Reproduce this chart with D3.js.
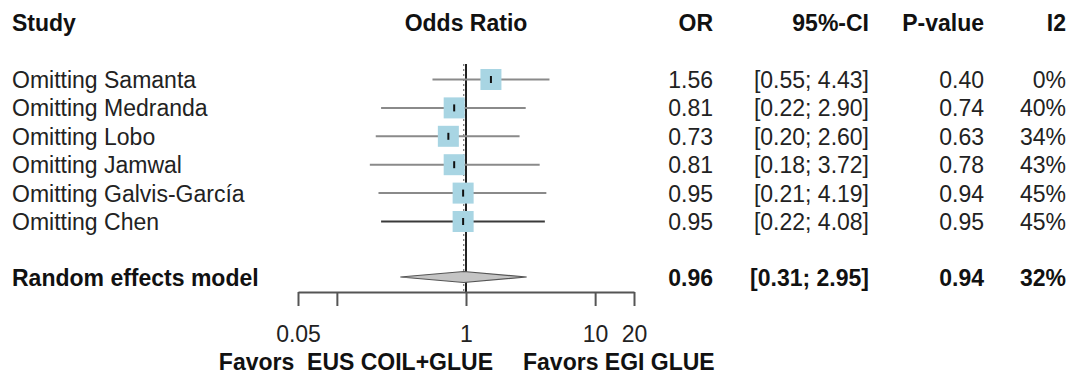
<!DOCTYPE html>
<html>
<head>
<meta charset="utf-8">
<script src="https://cdn.jsdelivr.net/npm/d3@7"></script>
<style>
	body { margin: 0; background: #fff; }
	svg text { font-family: "Liberation Sans", Arial, sans-serif; white-space: pre; }
</style>
</head>
<body>
<svg id="chart"></svg>
<script>
// leave-one-out results
const studies = [ 'Omitting Samanta', 'Omitting Medranda', 'Omitting Lobo', 'Omitting Jamwal', 'Omitting Galvis-García', 'Omitting Chen' ] ;
const orValues = [ 1.56, 0.81, 0.73, 0.81, 0.95, 0.95 ] ;
const ciLower = [ 0.55, 0.22, 0.20, 0.18, 0.21, 0.22 ] ;
const ciUpper = [ 4.43, 2.90, 2.60, 3.72, 4.19, 4.08 ] ;
const pValues = [ 0.40, 0.74, 0.63, 0.78, 0.94, 0.95 ] ;
const i2Values = [ 0, 40, 34, 43, 45, 45 ] ;

// pooled estimate
const pooledLabel = 'Random effects model' ;
const pooledOR = 0.96 ;
const pooledCI = [ 0.31, 2.95 ] ;
const pooledP = 0.94 ;
const pooledI2 = 32 ;

const headers = [ 'Study', 'Odds Ratio', 'OR', '95%-CI', 'P-value', 'I2' ] ;
const tickValues = [ 0.05, 0.1, 1, 10, 20 ] ;
const tickLabels = [ '0.05', '', '1', '10', '20' ] ;
const favorsLeft = 'Favors  EUS COIL+GLUE' ;
const favorsRight = 'Favors EGI GLUE' ;

const geom = { width: 1072, height: 377, fontSize: 23 } ;
const f2 = d3.format( '.2f' ) ;

const svg = d3.select( '#chart' )
	.attr( 'width', geom.width )
	.attr( 'height', geom.height ) ;

const x = d3.scaleLog()
	.domain( [ 0.05, 20 ] )
	.range( [ 298, 634 ] ) ;

const y = d3.scaleLinear()
	.domain( [ 0, studies.length - 1 ] )
	.range( [ 79.5, 221.5 ] ) ;
const yPooled = 277 ;
const yAxis = 292 ;

const cols = { study: 12, or: 713, ci: 869, p: 984, i2: 1066 } ;

const rows = studies.map( (s, i) => ({
	study: s,
	or: orValues[i],
	lo: ciLower[i],
	hi: ciUpper[i],
	p: pValues[i],
	i2: i2Values[i],
	idx: i
}) ) ;

// headers
const hy = 31 ;
const hdr = svg.append( 'g' )
	.attr( 'font-weight', 'bold' )
	.attr( 'font-size', geom.fontSize )
	.attr( 'fill', '#111' ) ;
hdr.append( 'text' ).attr( 'x', cols.study ).attr( 'y', hy ).text( headers[0] ) ;
hdr.append( 'text' ).attr( 'x', x(1) ).attr( 'y', hy ).attr( 'text-anchor', 'middle' ).text( headers[1] ) ;
hdr.append( 'text' ).attr( 'x', cols.or ).attr( 'y', hy ).attr( 'text-anchor', 'end' ).text( headers[2] ) ;
hdr.append( 'text' ).attr( 'x', cols.ci ).attr( 'y', hy ).attr( 'text-anchor', 'end' ).text( headers[3] ) ;
hdr.append( 'text' ).attr( 'x', cols.p ).attr( 'y', hy ).attr( 'text-anchor', 'end' ).text( headers[4] ) ;
hdr.append( 'text' ).attr( 'x', cols.i2 ).attr( 'y', hy ).attr( 'text-anchor', 'end' ).text( headers[5] ) ;

// reference lines
svg.append( 'line' )
	.attr( 'x1', x(1) ).attr( 'x2', x(1) )
	.attr( 'y1', 64 ).attr( 'y2', yAxis )
	.attr( 'stroke', '#222' )
	.attr( 'stroke-width', 2 ) ;
svg.append( 'line' )
	.attr( 'x1', x(pooledOR) ).attr( 'x2', x(pooledOR) )
	.attr( 'y1', 64 ).attr( 'y2', yAxis )
	.attr( 'stroke', '#777' )
	.attr( 'stroke-width', 1.2 )
	.attr( 'stroke-dasharray', '2 3' ) ;

// study rows
const g = svg.append( 'g' ) ;

g.selectAll( 'line.ci' )
	.data( rows )
	.enter()
	.append( 'line' )
	.attr( 'class', 'ci' )
	.attr( 'x1', d => x(d.lo) )
	.attr( 'x2', d => x(d.hi) )
	.attr( 'y1', d => y(d.idx) )
	.attr( 'y2', d => y(d.idx) )
	.attr( 'stroke', d => d.idx == rows.length - 1 ? '#3a3a3a' : '#8a8a8a' )
	.attr( 'stroke-width', 2 ) ;

const sq = 21 ;
g.selectAll( 'rect.box' )
	.data( rows )
	.enter()
	.append( 'rect' )
	.attr( 'class', 'box' )
	.attr( 'x', d => x(d.or) - sq / 2 )
	.attr( 'y', d => y(d.idx) - sq / 2 )
	.attr( 'width', sq )
	.attr( 'height', sq )
	.attr( 'fill', '#a8d5e3' ) ;

g.selectAll( 'line.pt' )
	.data( rows )
	.enter()
	.append( 'line' )
	.attr( 'class', 'pt' )
	.attr( 'x1', d => x(d.or) )
	.attr( 'x2', d => x(d.or) )
	.attr( 'y1', d => y(d.idx) - 3.5 )
	.attr( 'y2', d => y(d.idx) + 3.5 )
	.attr( 'stroke', '#111' )
	.attr( 'stroke-width', 2 ) ;

const txt = svg.append( 'g' )
	.attr( 'font-size', geom.fontSize )
	.attr( 'fill', '#222' ) ;

const cells = [
	{ col: cols.study, anchor: 'start', f: d => d.study },
	{ col: cols.or, anchor: 'end', f: d => f2(d.or) },
	{ col: cols.ci, anchor: 'end', f: d => '[' + f2(d.lo) + '; ' + f2(d.hi) + ']' },
	{ col: cols.p, anchor: 'end', f: d => f2(d.p) },
	{ col: cols.i2, anchor: 'end', f: d => d.i2 + '%' }
] ;
cells.forEach( c => {
	txt.selectAll( null )
		.data( rows )
		.enter()
		.append( 'text' )
		.attr( 'x', c.col )
		.attr( 'y', d => y(d.idx) + 8.5 )
		.attr( 'text-anchor', c.anchor )
		.text( c.f ) ;
} ) ;

// pooled diamond
svg.append( 'path' )
	.attr( 'd', 'M' + x(pooledCI[0]) + ',' + yPooled
		+ 'L' + x(pooledOR) + ',' + (yPooled - 5.5)
		+ 'L' + x(pooledCI[1]) + ',' + yPooled
		+ 'L' + x(pooledOR) + ',' + (yPooled + 5.5) + 'Z' )
	.attr( 'fill', '#c4c4c4' )
	.attr( 'stroke', '#555' )
	.attr( 'stroke-width', 1.2 ) ;

const pooledRow = [
	{ col: cols.study, anchor: 'start', t: pooledLabel },
	{ col: cols.or, anchor: 'end', t: f2(pooledOR) },
	{ col: cols.ci, anchor: 'end', t: '[' + f2(pooledCI[0]) + '; ' + f2(pooledCI[1]) + ']' },
	{ col: cols.p, anchor: 'end', t: f2(pooledP) },
	{ col: cols.i2, anchor: 'end', t: pooledI2 + '%' }
] ;
svg.append( 'g' )
	.attr( 'font-size', geom.fontSize )
	.attr( 'font-weight', 'bold' )
	.attr( 'fill', '#111' )
	.selectAll( 'text' )
	.data( pooledRow )
	.enter()
	.append( 'text' )
	.attr( 'x', d => d.col )
	.attr( 'y', yPooled + 9 )
	.attr( 'text-anchor', d => d.anchor )
	.text( d => d.t ) ;

// axis
const axis = svg.append( 'g' )
	.attr( 'transform', 'translate(0 ' + yAxis + ')' )
	.call( d3.axisBottom(x)
		.tickValues( tickValues )
		.tickFormat( (d, i) => tickLabels[i] )
		.tickSize( 14 )
		.tickSizeOuter( 0 )
		.tickPadding( 20 ) ) ;
axis.select( '.domain' ).attr( 'stroke', '#555' ).attr( 'stroke-width', 2 ) ;
axis.selectAll( '.tick line' ).attr( 'stroke', '#555' ).attr( 'stroke-width', 2 ) ;
axis.selectAll( '.tick text' )
	.attr( 'font-size', geom.fontSize )
	.attr( 'font-family', '"Liberation Sans", Arial, sans-serif' )
	.attr( 'fill', '#222' ) ;

// favours labels
const fav = svg.append( 'g' )
	.attr( 'font-size', geom.fontSize )
	.attr( 'font-weight', 'bold' )
	.attr( 'fill', '#111' ) ;
fav.append( 'text' )
	.attr( 'x', x(1) + 27 )
	.attr( 'y', 370 )
	.attr( 'text-anchor', 'end' )
	.text( favorsLeft ) ;
fav.append( 'text' )
	.attr( 'x', x(1) + 57 )
	.attr( 'y', 370 )
	.attr( 'text-anchor', 'start' )
	.text( favorsRight ) ;
</script>
</body>
</html>
